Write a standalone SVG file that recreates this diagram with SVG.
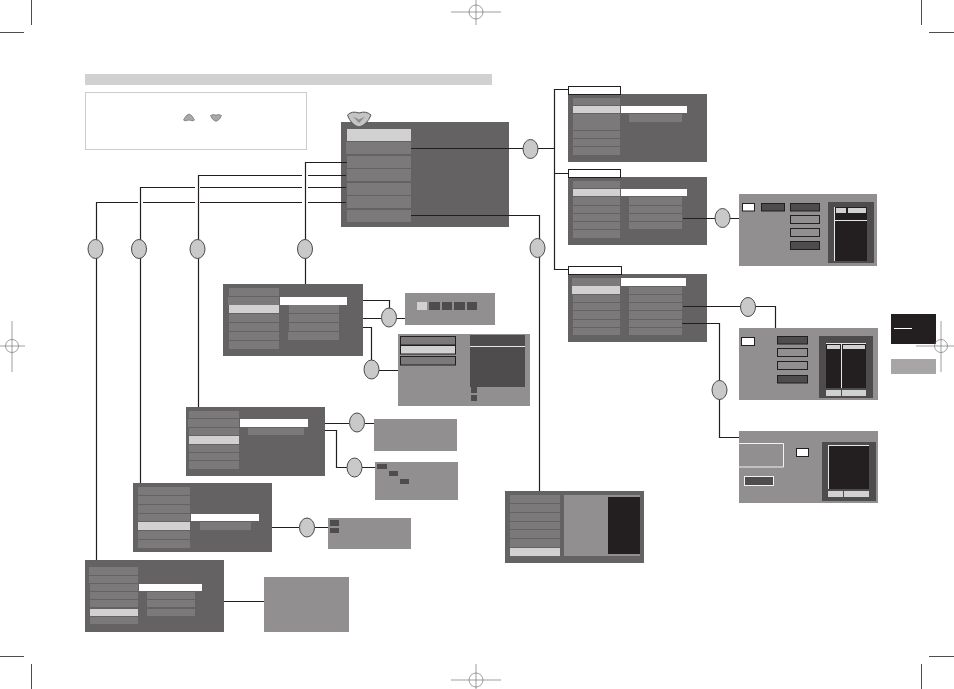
<svg xmlns="http://www.w3.org/2000/svg" width="954" height="689" viewBox="0 0 954 689">
<style>
.p{fill:#656263}.i{fill:#7b7979}.l{fill:#d1d1d1}.w{fill:#fff}.g{fill:#918f90}.d{fill:#4e4c4d}.k{fill:#231f20}
.b{stroke:#231f20;stroke-width:1}
.c{fill:none;stroke:#231f20;stroke-width:1.2}
.e{fill:#c9c9c9;stroke:#4a4a4a;stroke-width:1}
.m{fill:none;stroke:#777;stroke-width:.7}
.cm{fill:none;stroke:#231f20;stroke-width:.8}
.wl{fill:none;stroke:#e6e6e6;stroke-width:1}
</style>
<g id="crop-marks">
<path class="cm" d="M31.500 0V25M0 32.500H24M921.500 0V25M929 32.500H954M0 656.500H24M31.500 664V689M929 656.500H954M921.500 664V689"/>
<path class="m" d="M476 0V25M451 12H501M476 664V689M451 680H501M12 321V372M0 346H25M941 321V372M916 346H954"/>
<circle class="m" cx="476" cy="12" r="7"/><circle class="m" cx="476" cy="680" r="7"/><circle class="m" cx="12" cy="346" r="6.500"/>
</g>
<g id="title"><rect x="85" y="74" width="407" height="11" class="l"/></g>
<g id="note">
<rect x="85.500" y="92.500" width="221" height="57" fill="#fff" stroke="#ccc"/>
<path d="M183.500 120Q186 114.500 189 114Q192 114.500 194.500 120Q193 121.500 191 120.500Q189 119.500 187 120.500Q185 121.500 183.500 120Z" fill="#a8a8a8" stroke="#777" stroke-width=".7"/>
<path d="M210.500 115.500Q212.500 114 216 115Q219.500 114 221.500 115.500Q220 120 216 121.500Q212 120 210.500 115.500Z" fill="#a8a8a8" stroke="#777" stroke-width=".7"/>
</g>
<g id="main-menu">
<rect x="341" y="122" width="168" height="105" class="p"/>
<rect x="347" y="129" width="64" height="12" class="l"/><rect x="346" y="142" width="65" height="12" class="i"/>
<rect x="347" y="156" width="64" height="12" class="i"/><rect x="347" y="169" width="64" height="12" class="i"/><rect x="347" y="183" width="64" height="12" class="i"/><rect x="347" y="196" width="64" height="12" class="i"/><rect x="347" y="210" width="64" height="12" class="i"/>
<path d="M347.500 115Q352 110.500 359 113Q366 110.500 371 115Q367 125 359 127Q351 125 347.500 115Z" fill="#c4c4c4" stroke="#555"/>
<path d="M353 116.500L359 119.500L365 116.500L359 123Z" fill="#8b8b8b"/>
</g>
<g id="menu-a">
<rect x="568" y="94" width="139" height="68" class="p"/>
<rect x="568.500" y="86.500" width="52" height="8" class="w b"/>
<rect x="573" y="98" width="47" height="7" class="i"/><rect x="573" y="106" width="47" height="7" class="l"/><rect x="573" y="114" width="47" height="16" class="i"/><rect x="573" y="131" width="47" height="7" class="i"/><rect x="573" y="139" width="47" height="7" class="i"/><rect x="573" y="147" width="47" height="8" class="i"/>
<rect x="621" y="106" width="66" height="7" class="w"/><rect x="629" y="114" width="53" height="8" class="i"/>
</g>
<g id="menu-b">
<rect x="568" y="177" width="139" height="68" class="p"/>
<rect x="568.500" y="169.500" width="52" height="8" class="w b"/>
<rect x="573" y="181" width="47" height="7" class="i"/><rect x="573" y="189" width="47" height="7" class="l"/><rect x="573" y="197" width="47" height="8" class="i"/><rect x="573" y="206" width="47" height="7" class="i"/><rect x="573" y="214" width="47" height="7" class="i"/><rect x="573" y="222" width="47" height="7" class="i"/><rect x="573" y="230" width="47" height="8" class="i"/>
<rect x="621" y="189" width="66" height="7" class="w"/><rect x="629" y="197" width="53" height="8" class="i"/><rect x="629" y="206" width="53" height="7" class="i"/><rect x="629" y="214" width="53" height="7" class="i"/><rect x="629" y="222" width="53" height="7" class="i"/>
</g>
<g id="screen-b">
<rect x="739" y="194" width="138" height="72" class="g"/>
<rect x="742.500" y="203.500" width="12" height="7.500" class="w b"/><rect x="761.500" y="203.500" width="23" height="7.500" class="d b"/><rect x="790.500" y="203.500" width="29" height="7.500" class="d b"/>
<rect x="790.500" y="215.500" width="29" height="8" class="g b"/><rect x="790.500" y="228.500" width="29" height="8" class="g b"/><rect x="790.500" y="241.500" width="29" height="8" class="d b"/>
<rect x="828" y="202" width="46" height="61" class="d"/><rect x="835" y="207" width="32" height="54" class="k"/>
<rect x="836" y="208" width="10" height="5" class="l"/><rect x="848" y="208" width="18" height="5" class="l"/>
<path class="wl" d="M835 220.500H867M834.500 207V261"/>
</g>
<g id="menu-d">
<rect x="568" y="274" width="139" height="68" class="p"/>
<rect x="568.500" y="266.500" width="53" height="8" class="w b"/>
<rect x="572" y="278" width="48" height="8" class="i"/><rect x="572" y="286" width="48" height="8" class="l"/><rect x="573" y="295" width="47" height="7" class="i"/><rect x="573" y="303" width="47" height="7" class="i"/><rect x="573" y="311" width="47" height="8" class="i"/><rect x="573" y="320" width="47" height="7" class="i"/><rect x="573" y="328" width="47" height="7" class="i"/>
<rect x="621" y="278" width="65" height="8" class="w"/><rect x="629" y="287" width="53" height="7" class="i"/><rect x="629" y="295" width="53" height="7" class="i"/><rect x="629" y="303" width="53" height="7" class="i"/><rect x="629" y="311" width="53" height="8" class="i"/><rect x="629" y="320" width="53" height="7" class="i"/><rect x="629" y="328" width="53" height="7" class="i"/>
</g>
<g id="screen-e">
<rect x="739" y="328" width="139" height="72" class="g"/>
<rect x="741.500" y="337.500" width="13" height="8" class="w b"/>
<rect x="777.500" y="336.500" width="30" height="7.500" class="d b"/><rect x="777.500" y="348.500" width="30" height="8" class="g b"/><rect x="777.500" y="361.500" width="30" height="8" class="g b"/><rect x="777.500" y="375.500" width="30" height="7.500" class="d b"/>
<rect x="819" y="336" width="54" height="62" class="d"/><rect x="826" y="344" width="40" height="44" class="k"/>
<rect x="827" y="345" width="13" height="4" class="l"/><rect x="843" y="345" width="22" height="4" class="l"/>
<path class="wl" d="M826 343.500H866M841.500 344V388"/>
<rect x="826" y="390" width="15" height="6" class="l"/><rect x="842" y="390" width="24" height="6" class="l"/>
</g>
<g id="screen-f">
<rect x="739" y="431" width="139" height="72" class="g"/>
<path d="M739 443.500H783.500V467H739" fill="none" stroke="#f2f2f2"/>
<rect x="796.500" y="448.500" width="12" height="8" class="w b"/>
<rect x="744.500" y="476.500" width="29" height="9" class="d" stroke="#f2f2f2"/>
<rect x="822" y="442" width="54" height="59" class="d"/><rect x="828" y="445" width="41" height="44" class="k"/>
<path class="wl" d="M828 445.500H869M828.500 445V489"/>
<rect x="828" y="491" width="15" height="6" class="l"/><rect x="844" y="491" width="25" height="6" class="l"/>
</g>
<g id="menu-g">
<rect x="505" y="491" width="139" height="72" class="p"/>
<rect x="510" y="495" width="50" height="8" class="i"/><rect x="510" y="504" width="50" height="8" class="i"/><rect x="510" y="513" width="50" height="8" class="i"/><rect x="510" y="522" width="50" height="7" class="i"/><rect x="510" y="530" width="50" height="8" class="i"/><rect x="510" y="539" width="50" height="8" class="i"/><rect x="510" y="548" width="50" height="8" class="l"/>
<rect x="564" y="495" width="76" height="61" class="g"/><rect x="608" y="497" width="32" height="57" class="k"/>
</g>
<g id="menu-h">
<rect x="85" y="560" width="139" height="72" class="p"/>
<rect x="89" y="567" width="49" height="8" class="i"/><rect x="89" y="576" width="49" height="7" class="i"/><rect x="90" y="584" width="48" height="7" class="i"/><rect x="90" y="592" width="48" height="7" class="i"/><rect x="90" y="600" width="48" height="7" class="i"/><rect x="90" y="609" width="48" height="7" class="l"/><rect x="90" y="617" width="48" height="7" class="i"/>
<rect x="139" y="584" width="63" height="7" class="w"/><rect x="147" y="592" width="48" height="7" class="i"/><rect x="147" y="600" width="48" height="7" class="i"/><rect x="147" y="609" width="48" height="7" class="i"/>
</g>
<g id="screen-h"><rect x="264" y="577" width="85" height="55" class="g"/></g>
<g id="menu-i">
<rect x="133" y="483" width="139" height="69" class="p"/>
<rect x="138" y="487" width="52" height="8" class="i"/><rect x="138" y="496" width="52" height="8" class="i"/><rect x="138" y="505" width="52" height="8" class="i"/><rect x="138" y="514" width="52" height="7" class="i"/><rect x="138" y="522" width="52" height="8" class="l"/><rect x="138" y="531" width="52" height="8" class="i"/><rect x="138" y="540" width="52" height="8" class="i"/>
<rect x="191" y="514" width="68" height="7" class="w"/><rect x="200" y="522" width="51" height="8" class="i"/>
</g>
<g id="screen-i">
<rect x="328" y="518" width="83" height="31" class="g"/><rect x="330" y="520" width="9" height="6" class="d"/><rect x="330" y="528" width="9" height="5" class="d"/>
</g>
<g id="menu-j">
<rect x="186" y="407" width="139" height="69" class="p"/>
<rect x="189" y="411" width="50" height="7" class="i"/><rect x="188" y="419" width="51" height="8" class="i"/><rect x="189" y="428" width="50" height="7" class="i"/><rect x="189" y="436" width="50" height="8" class="l"/><rect x="189" y="445" width="50" height="7" class="i"/><rect x="189" y="453" width="50" height="7" class="i"/><rect x="189" y="461" width="50" height="8" class="i"/>
<rect x="240" y="419" width="68" height="8" class="w"/><rect x="248" y="428" width="56" height="7" class="i"/>
</g>
<g id="screen-j1"><rect x="374" y="419" width="83" height="32" class="g"/></g>
<g id="screen-j2">
<rect x="375" y="462" width="83" height="38" class="g"/><rect x="377" y="464" width="10" height="5" class="d"/><rect x="389" y="471" width="9" height="5" class="d"/><rect x="400" y="479" width="9" height="5" class="d"/>
</g>
<g id="menu-k">
<rect x="223" y="284" width="140" height="72" class="p"/>
<rect x="229" y="288" width="50" height="8" class="i"/><rect x="228" y="297" width="51" height="8" class="i"/><rect x="229" y="305" width="50" height="8" class="l"/><rect x="229" y="314" width="50" height="8" class="i"/><rect x="229" y="323" width="50" height="8" class="i"/><rect x="229" y="332" width="50" height="8" class="i"/><rect x="229" y="341" width="50" height="8" class="i"/>
<rect x="280" y="297" width="67" height="8" class="w"/><rect x="289" y="305" width="50" height="8" class="i"/><rect x="289" y="314" width="50" height="8" class="i"/><rect x="289" y="323" width="50" height="8" class="i"/><rect x="288" y="332" width="51" height="8" class="i"/>
</g>
<g id="screen-k1">
<rect x="405" y="293" width="90" height="32" class="g"/>
<rect x="417" y="302" width="10" height="8" class="l"/><rect x="429" y="302" width="11" height="8" class="d"/><rect x="442" y="302" width="10" height="8" class="d"/><rect x="454" y="302" width="11" height="8" class="d"/><rect x="467" y="302" width="10" height="8" class="d"/>
</g>
<g id="screen-k2">
<rect x="398" y="334" width="132" height="72" class="g"/>
<rect x="400.500" y="336.500" width="55" height="8.500" class="i b"/><rect x="400.500" y="345.500" width="55" height="8.500" class="l b"/><rect x="400.500" y="356.500" width="55" height="8.500" class="i b"/>
<rect x="470" y="335" width="55" height="52" class="d"/><path class="wl" d="M470 346.500H525"/>
<rect x="471" y="387" width="6" height="6" class="d"/><rect x="471" y="395" width="6" height="6" class="d"/>
</g>
<g id="side-tab">
<rect x="891" y="314" width="45" height="30" class="k"/><path d="M894 328.500H912" stroke="#fff" fill="none"/>
<rect x="891" y="359" width="45" height="15" fill="#a7a5a6"/>
<circle class="m" cx="941" cy="346" r="6.500"/>
</g>
<g id="connectors">
<path class="c" d="M411 148.500H523M411 215.500H539.500V240M347 162.500H305.500V240M302 175.500H198.500V240M308 175.500H346M195 187.500H140.500V240M200 187.500H302M308 187.500H346M138 202.500H96.500V240M143 202.500H195M200 202.500H302M308 202.500H346"/>
<path class="c" d="M96.500 258V560M140.500 258V483M198.500 258V407M305.500 258V284M539.500 257V491"/>
<path class="c" d="M538 148.500H554.500M568 89.500H554.500V269.500H568M554.500 173.500H568"/>
<path class="c" d="M683 218.500H715M730 218.500H739"/>
<path class="c" d="M683 306.500H740M756 306.500H775.500V328M682 323.500H719.500V381M719.500 399V437.500H739"/>
<path class="c" d="M363 300.500H389.500V309M363 318.500H381M397 318.500H405M363 327.500H371.500V361M379 370.500H398"/>
<path class="c" d="M325 423.500H349M365 423.500H374M325 430.500H336.500V467.500H347M362 467.500H375"/>
<path class="c" d="M272 527.500H299M315 527.500H328M224 601.500H264"/>
</g>
<g id="badges">
<ellipse class="e" cx="95.500" cy="249" rx="7.500" ry="9.500"/><ellipse class="e" cx="139" cy="249" rx="7.500" ry="9.500"/><ellipse class="e" cx="197.500" cy="249" rx="7.500" ry="9.500"/><ellipse class="e" cx="305" cy="249" rx="7.500" ry="9.500"/>
<ellipse class="e" cx="530.500" cy="149" rx="7.500" ry="9.500"/><ellipse class="e" cx="537.500" cy="248" rx="7.500" ry="9.500"/>
<ellipse class="e" cx="722.500" cy="218" rx="7.500" ry="9.500"/><ellipse class="e" cx="748" cy="307" rx="7.500" ry="9.500"/><ellipse class="e" cx="719.500" cy="390" rx="7.500" ry="9.500"/>
<ellipse class="e" cx="389" cy="317.500" rx="7.500" ry="9.500"/><ellipse class="e" cx="371.500" cy="369.500" rx="7.500" ry="9.500"/>
<ellipse class="e" cx="357" cy="422.500" rx="7.500" ry="9.500"/><ellipse class="e" cx="354.500" cy="467.500" rx="7.500" ry="9.500"/><ellipse class="e" cx="307" cy="527.500" rx="7.500" ry="9.500"/>
</g>
</svg>
